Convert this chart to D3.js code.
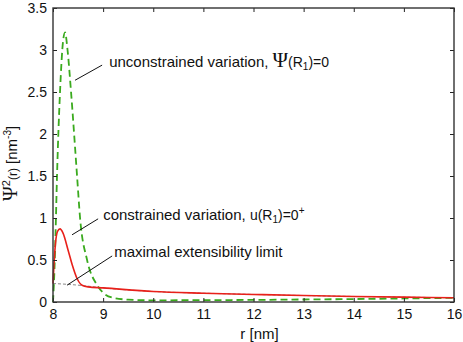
<!DOCTYPE html>
<html>
<head>
<meta charset="utf-8">
<script src="https://cdn.jsdelivr.net/npm/d3@7"></script>
<style>
  body { margin: 0; background: #fff; }
  text { font-family: "Liberation Sans", Arial, sans-serif; fill: #111; }
</style>
</head>
<body>
<div id="chart"></div>
<script>
// unconstrained variation (green dashed)
const rGreen = [8.0, 8.03, 8.05, 8.08, 8.14, 8.2, 8.24, 8.29, 8.36, 8.48, 8.54, 8.68, 8.88, 9.0, 9.2, 9.5, 10, 11, 12, 13, 14, 15, 16];
const vGreen = [0, 0.4, 0.8, 1.5, 2.5, 3.1, 3.21, 3.0, 2.5, 1.5, 1.0, 0.5, 0.2, 0.11, 0.05, 0.028, 0.02, 0.022, 0.025, 0.03, 0.035, 0.042, 0.05];
// constrained variation (red)
const rRed = [8.0, 8.02, 8.05, 8.09, 8.14, 8.2, 8.3, 8.38, 8.48, 8.58, 8.7, 9, 10, 11, 12, 13, 14, 15, 16];
const vRed = [0.22, 0.45, 0.7, 0.84, 0.87, 0.82, 0.62, 0.45, 0.28, 0.2, 0.18, 0.168, 0.125, 0.105, 0.09, 0.077, 0.066, 0.058, 0.05];
// maximal extensibility limit (grey dashed)
const rGrey = [8.0, 8.3, 8.6, 9, 10, 11, 12, 13, 14, 15, 16];
const vGrey = [0.22, 0.21, 0.195, 0.168, 0.125, 0.105, 0.09, 0.077, 0.066, 0.058, 0.05];

const xTicks = [8, 9, 10, 11, 12, 13, 14, 15, 16];
const yTicks = [0, 0.5, 1, 1.5, 2, 2.5, 3, 3.5];

const config = {
  width: 463, height: 342,
  margin: { top: 8, right: 9, bottom: 40, left: 53 }
};

const w = config.width - config.margin.left - config.margin.right;
const h = config.height - config.margin.top - config.margin.bottom;

const svg = d3.select("#chart").append("svg")
  .attr("width", config.width)
  .attr("height", config.height);

const g = svg.append("g")
  .attr("transform", `translate(${config.margin.left},${config.margin.top})`);

const x = d3.scaleLinear().domain([8, 16]).range([0, w]);
const y = d3.scaleLinear().domain([0, 3.5]).range([h, 0]);

const line = d3.line()
  .x(d => x(d[0]))
  .y(d => y(d[1]))
  .curve(d3.curveMonotoneX);

const zip = (a, b) => a.map((d, i) => [d, b[i]]);

const plot = g.append("g");

plot.append("path")
  .datum(zip(rGrey, vGrey))
  .attr("d", line)
  .attr("fill", "none")
  .attr("stroke", "#888")
  .attr("stroke-width", 1)
  .attr("stroke-dasharray", "3,2");

plot.append("path")
  .datum(zip(rGreen, vGreen))
  .attr("d", line)
  .attr("fill", "none")
  .attr("stroke", "#3aaa1e")
  .attr("stroke-width", 1.8)
  .attr("stroke-dasharray", "7,4");

plot.append("path")
  .datum(zip(rRed, vRed))
  .attr("d", line)
  .attr("fill", "none")
  .attr("stroke", "#e8201a")
  .attr("stroke-width", 1.6);

// axes with inward ticks
const styleAxis = sel => {
  sel.select(".domain").remove();
  sel.selectAll(".tick line").attr("stroke", "#222").attr("stroke-width", 1);
  sel.selectAll(".tick text").style("font-size", "14px").attr("fill", "#111");
};

g.append("g")
  .attr("transform", `translate(0,${h})`)
  .call(d3.axisBottom(x).tickValues(xTicks).tickFormat(d3.format("d")).tickSizeInner(-4).tickPadding(7))
  .call(styleAxis);

g.append("g")
  .call(d3.axisTop(x).tickValues(xTicks).tickFormat("").tickSizeInner(-4))
  .call(styleAxis);

g.append("g")
  .call(d3.axisLeft(y).tickValues(yTicks).tickFormat(d => d).tickSizeInner(-4).tickPadding(6))
  .call(styleAxis);

g.append("g")
  .attr("transform", `translate(${w},0)`)
  .call(d3.axisRight(y).tickValues(yTicks).tickFormat("").tickSizeInner(-4))
  .call(styleAxis);

g.append("rect")
  .attr("width", w)
  .attr("height", h)
  .attr("fill", "none")
  .attr("stroke", "#333")
  .attr("stroke-width", 1.4);

// annotations (positions in data units)
const annotations = [
  { tx: 9.12, ty: 2.80, line: [[8.98, 2.82], [8.44, 2.64]] },
  { tx: 9.0, ty: 0.976, line: [[8.9, 0.99], [8.38, 0.80]] },
  { tx: 9.22, ty: 0.536, line: [[9.18, 0.548], [8.28, 0.20]] }
];

annotations.forEach(a => {
  g.append("line")
    .attr("x1", x(a.line[0][0])).attr("y1", y(a.line[0][1]))
    .attr("x2", x(a.line[1][0])).attr("y2", y(a.line[1][1]))
    .attr("stroke", "#111").attr("stroke-width", 1);
});

const t1 = g.append("text")
  .attr("x", x(annotations[0].tx)).attr("y", y(annotations[0].ty))
  .style("font-size", "15px");
t1.append("tspan").text("unconstrained variation, ");
t1.append("tspan").text("Ψ").style("font-family", "'Liberation Serif', serif").style("font-size", "21px");
t1.append("tspan").text("(R").style("font-size", "14px");
t1.append("tspan").text("1").style("font-size", "10px").attr("dy", 3);
t1.append("tspan").text(")=0").style("font-size", "14px").attr("dy", -3);

const t2 = g.append("text")
  .attr("x", x(annotations[1].tx)).attr("y", y(annotations[1].ty))
  .style("font-size", "15px");
t2.append("tspan").text("constrained variation, ");
t2.append("tspan").text("u(R").style("font-size", "14px");
t2.append("tspan").text("1").style("font-size", "10px").attr("dy", 3);
t2.append("tspan").text(")=0").style("font-size", "14px").attr("dy", -3);
t2.append("tspan").text("+").style("font-size", "10px").attr("dy", -6);

g.append("text")
  .attr("x", x(annotations[2].tx)).attr("y", y(annotations[2].ty))
  .style("font-size", "15px")
  .text("maximal extensibility limit");

// axis titles
svg.append("text")
  .attr("x", config.margin.left + w / 2 + 6)
  .attr("y", 339)
  .attr("text-anchor", "middle")
  .style("font-size", "15px")
  .text("r [nm]");

const yl = svg.append("text")
  .attr("transform", "translate(17,201) rotate(-90)")
  .style("font-size", "15px");
yl.append("tspan").text("Ψ").style("font-family", "'Liberation Serif', serif").style("font-size", "20px");
yl.append("tspan").text("2").style("font-size", "11px").attr("dy", -7);
yl.append("tspan").text("(r)").style("font-size", "12px").attr("dy", 7);
yl.append("tspan").text(" [nm");
yl.append("tspan").text("-3").style("font-size", "10px").attr("dy", -6);
yl.append("tspan").text("]").attr("dy", 6);
</script>
</body>
</html>
